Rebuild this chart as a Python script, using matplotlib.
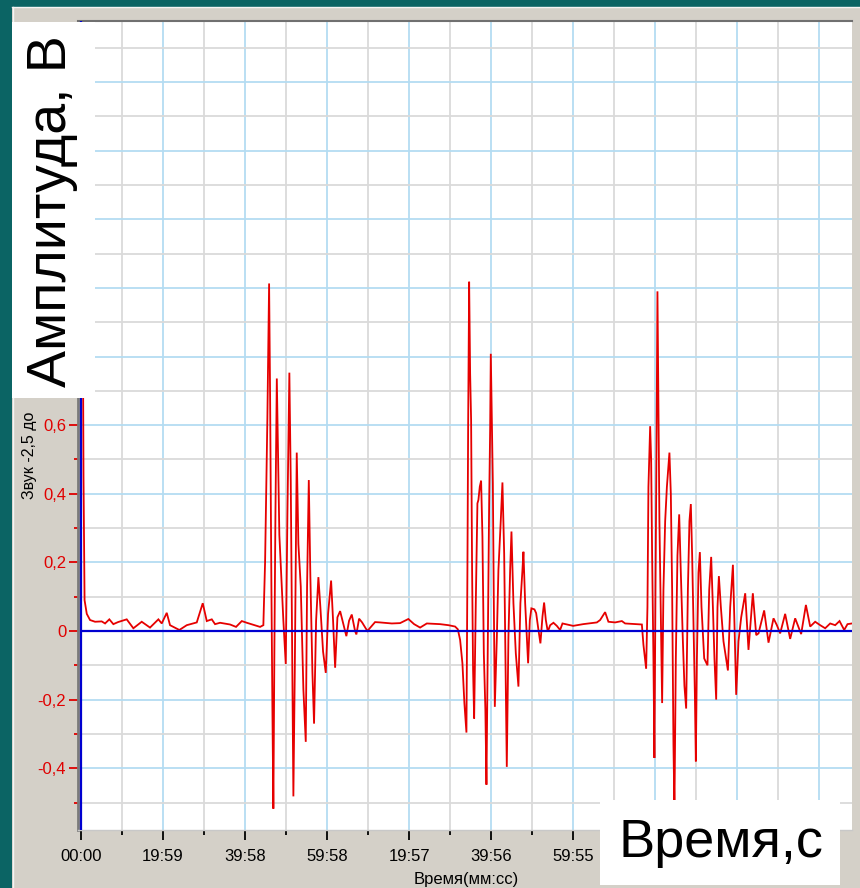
import numpy as np
import matplotlib
matplotlib.use("Agg")
import matplotlib.pyplot as plt
from matplotlib.patches import Rectangle
from matplotlib.lines import Line2D

plt.rcParams['font.family'] = ['Liberation Sans', 'DejaVu Sans']

# ---------------- data (time in major-tick units, amplitude in V) -------------
t_start = [0.015, 0.030, 0.043, 0.070, 0.110, 0.171, 0.252, 0.293, 0.345, 0.394,
           0.451, 0.557, 0.638, 0.740, 0.841, 0.943, 0.984, 1.045, 1.085, 1.199,
           1.289, 1.411, 1.484, 1.533, 1.594, 1.634, 1.695, 1.817, 1.890, 1.960,
           2.021, 2.183, 2.223]
a_start = [1.30, 0.45, 0.09, 0.05, 0.032, 0.027, 0.028, 0.022, 0.034, 0.020,
           0.026, 0.034, 0.008, 0.027, 0.010, 0.034, 0.022, 0.053, 0.017, 0.003,
           0.017, 0.025, 0.081, 0.029, 0.034, 0.020, 0.024, 0.019, 0.012, 0.029,
           0.024, 0.012, 0.017]

t_burst1 = [2.244, 2.260, 2.272, 2.293, 2.305, 2.321, 2.333, 2.345, 2.357, 2.370,
            2.387, 2.402, 2.418, 2.439, 2.467, 2.496, 2.516, 2.540, 2.557, 2.573,
            2.589, 2.606, 2.630, 2.650, 2.679, 2.711, 2.740, 2.756, 2.777, 2.796,
            2.821, 2.841, 2.866, 2.894, 2.918, 2.951, 2.984, 3.012, 3.049, 3.073,
            3.098, 3.126, 3.159, 3.199, 3.235, 3.268, 3.301, 3.341, 3.357, 3.390]
a_burst1 = [0.20, 0.44, 0.62, 1.013, 0.69, 0.13, -0.22, -0.518, -0.07, 0.335,
            0.736, 0.52, 0.28, 0.17, 0.03, -0.096, 0.335, 0.753, 0.437, -0.02,
            -0.482, -0.12, 0.52, 0.254, 0.13, -0.17, -0.323, 0.13, 0.44, 0.16,
            -0.12, -0.27, 0.03, 0.157, 0.07, -0.06, -0.122, 0.05, 0.147, 0.03,
            -0.107, 0.04, 0.058, 0.02, -0.015, 0.03, 0.048, 0.0, -0.01, 0.036]

t_gap1 = [3.427, 3.491, 3.585, 3.646, 3.789, 3.890, 3.991, 4.061, 4.134, 4.216,
          4.378, 4.479, 4.561, 4.594]
a_gap1 = [0.025, 0.0, 0.026, 0.025, 0.022, 0.023, 0.035, 0.02, 0.01, 0.022,
          0.02, 0.017, 0.013, 0.005]

t_burst2 = [4.622, 4.650, 4.674, 4.699, 4.711, 4.720, 4.732, 4.744, 4.756, 4.768,
            4.780, 4.793, 4.813, 4.833, 4.845, 4.862, 4.878, 4.894, 4.911, 4.930,
            4.943, 4.960, 4.976, 4.988, 4.996, 5.009, 5.021, 5.033, 5.045, 5.070,
            5.089, 5.118, 5.138, 5.159, 5.179, 5.191, 5.211, 5.232, 5.248, 5.272,
            5.301, 5.333, 5.357, 5.382, 5.394, 5.415, 5.435, 5.451, 5.472, 5.491,
            5.528, 5.549, 5.577, 5.601, 5.626, 5.646, 5.667, 5.691, 5.720, 5.760,
            5.801, 5.841, 5.870]
a_burst2 = [-0.026, -0.094, -0.21, -0.296, 0.178, 0.605, 1.018, 0.751, 0.615, 0.178,
            -0.114, -0.255, 0.081, 0.372, 0.382, 0.421, 0.438, 0.275, -0.065, -0.23,
            -0.448, -0.017, 0.372, 0.586, 0.808, 0.615, 0.43, 0.081, -0.221, -0.017,
            0.178, 0.324, 0.433, 0.226, -0.162, -0.396, -0.017, 0.178, 0.29, 0.081,
            -0.065, -0.162, 0.081, 0.178, 0.231, 0.081, -0.017, -0.094, 0.032, 0.066,
            0.063, 0.052, 0.003, -0.036, 0.042, 0.083, 0.032, -0.002, 0.017, 0.024,
            0.015, 0.003, 0.022]

t_gap2 = [6.000, 6.122, 6.289, 6.329, 6.390, 6.430, 6.512, 6.594, 6.634, 6.838]
a_gap2 = [0.015, 0.02, 0.025, 0.032, 0.055, 0.027, 0.025, 0.029, 0.022, 0.019]

t_burst3 = [6.857, 6.890, 6.906, 6.918, 6.939, 6.951, 6.963, 6.979, 6.991, 7.004,
            7.016, 7.028, 7.040, 7.052, 7.070, 7.085, 7.101, 7.122, 7.143, 7.174,
            7.191, 7.207, 7.223, 7.235, 7.252, 7.272, 7.293, 7.313, 7.338, 7.357,
            7.378, 7.399, 7.418, 7.435, 7.451, 7.467, 7.484, 7.496, 7.509, 7.528,
            7.545, 7.565, 7.598, 7.638, 7.659, 7.683, 7.704, 7.723, 7.744, 7.760,
            7.777, 7.801, 7.833, 7.887, 7.915, 7.948, 7.967, 7.988, 8.016, 8.049,
            8.098, 8.138, 8.191, 8.232, 8.260, 8.329, 8.382, 8.443, 8.484, 8.524,
            8.585, 8.646, 8.707, 8.780, 8.838, 8.890, 8.951, 9.012, 9.073, 9.134,
            9.195, 9.248, 9.305, 9.345, 9.399]
a_burst3 = [-0.04, -0.11, 0.07, 0.42, 0.597, 0.50, 0.22, -0.08, -0.37, 0.12,
            0.52, 0.99, 0.64, 0.32, 0.02, -0.21, 0.12, 0.32, 0.42, 0.52,
            0.40, 0.12, -0.33, -0.52, -0.08, 0.22, 0.34, 0.17, -0.03, -0.16,
            -0.226, 0.12, 0.32, 0.37, 0.22, 0.02, -0.18, -0.38, -0.08, 0.17,
            0.23, 0.07, -0.08, -0.10, 0.12, 0.216, 0.07, -0.08, -0.20, 0.07,
            0.16, 0.07, -0.03, -0.115, 0.07, 0.193, 0.02, -0.186, -0.03, 0.04,
            0.11, -0.055, 0.11, -0.012, -0.007, 0.06, -0.034, 0.037, 0.017, -0.007,
            0.05, -0.023, 0.037, -0.009, 0.076, 0.013, 0.027, 0.017, 0.008, 0.022,
            0.017, 0.029, 0.003, 0.02, 0.022]

x_tick_pos = [0, 1, 2, 3, 4, 5, 6, 7, 8, 9]
x_tick_labels = ["00:00", "19:59", "39:58", "59:58", "19:57", "39:56", "59:55", "", "", ""]
y_major = [-0.4, -0.2, 0.0, 0.2, 0.4, 0.6, 0.8, 1.0, 1.2, 1.4, 1.6]
y_major_labels = ["-0,4", "-0,2", "0", "0,2", "0,4", "0,6", "", "", "", "", ""]
y_minor = [-0.5, -0.3, -0.1, 0.1, 0.3, 0.5, 0.7, 0.9, 1.1, 1.3, 1.5, 1.7]
x_minor = [0.5, 1.5, 2.5, 3.5, 4.5, 5.5, 6.5, 7.5, 8.5]

t = np.concatenate([t_start, t_burst1, t_gap1, t_burst2, t_gap2, t_burst3])
amp = np.concatenate([a_start, a_burst1, a_gap1, a_burst2, a_gap2, a_burst3])

# ---------------- figure ----------------
W, H = 860, 888
fig = plt.figure(figsize=(W / 100, H / 100), dpi=100)
fig.patch.set_facecolor('#0b6464')

def fx(px):
    return px / W

def fy(py):
    return 1 - py / H

# grey application window
fig.add_artist(Rectangle((fx(12), 0), 1 - fx(12), fy(7), transform=fig.transFigure,
                         facecolor='#d4d0c8', edgecolor='none', zorder=0))
fig.add_artist(Line2D([fx(12.5), fx(12.5)], [0, fy(7)], transform=fig.transFigure,
                      color='#f4f4f4', lw=1, zorder=0.5))
fig.add_artist(Line2D([fx(12), 1], [fy(7.5), fy(7.5)], transform=fig.transFigure,
                      color='#f4f4f4', lw=1, zorder=0.5))

ax = fig.add_axes([fx(78), fy(830), fx(852) - fx(78), fy(21) - fy(830)])
ax.set_facecolor('white')
ax.set_xlim(-0.037, 9.40)
ax.set_ylim(-0.58, 1.778)

ax.set_xticks(x_tick_pos)
ax.set_xticklabels(x_tick_labels)
ax.set_xticks(x_minor, minor=True)
ax.set_yticks(y_major)
ax.set_yticklabels(y_major_labels)
ax.set_yticks(y_minor, minor=True)

ax.grid(which='major', color='#b4dcf2', lw=1.3, zorder=0)
ax.grid(which='minor', color='#dadada', lw=1.3, zorder=0)
ax.set_axisbelow(True)

ax.tick_params(axis='x', which='major', direction='out', length=7, width=1.3,
               color='black', labelsize=12, pad=7, labelcolor='black')
ax.tick_params(axis='x', which='minor', direction='out', length=3.5, width=1.3,
               color='black')
ax.tick_params(axis='y', which='major', direction='out', length=6.5, width=1.3,
               color='#e00000', labelsize=12, pad=2, labelcolor='#e00000')
ax.tick_params(axis='y', which='minor', direction='out', length=3, width=1.3,
               color='#e00000')

ax.spines['left'].set_color('#7a7a7a')
ax.spines['left'].set_linewidth(2)
ax.spines['top'].set_color('#707070')
ax.spines['top'].set_linewidth(1.5)
ax.spines['right'].set_visible(False)
ax.spines['bottom'].set_color('#c8c8c8')
ax.spines['bottom'].set_linewidth(1)

ax.plot(t, amp, color='#e60000', lw=1.3, zorder=3, solid_joinstyle='miter')
ax.hlines(0, 0, 9.40, color='#0000d0', lw=1.6, zorder=4)
ax.axvline(0, color='#0000d0', lw=1.6, zorder=4)

# axis titles of the instrument software
fig.text(fx(29.5), fy(455), "Звук -2,5 до", rotation=90, ha='center', va='center',
         fontsize=11.5, color='black')
fig.text(fx(466), fy(879), "Время(мм:сс)", ha='center', va='center',
         fontsize=12, color='black')

# overlay slide text boxes
fig.add_artist(Rectangle((fx(12), fy(398)), fx(95) - fx(12), fy(22) - fy(398),
                         transform=fig.transFigure, facecolor='white',
                         edgecolor='none', zorder=10))
fig.text(fx(52), fy(211), "Амплитуда, В", rotation=90, ha='center', va='center',
         fontsize=40, color='black', zorder=11)
fig.add_artist(Rectangle((fx(600), fy(885)), fx(840) - fx(600), fy(800) - fy(885),
                         transform=fig.transFigure, facecolor='white',
                         edgecolor='none', zorder=10))
fig.text(fx(721), fy(843), "Время,с", ha='center', va='center',
         fontsize=39, color='black', zorder=11)

fig.savefig("out.png", dpi=100, facecolor=fig.get_facecolor())
